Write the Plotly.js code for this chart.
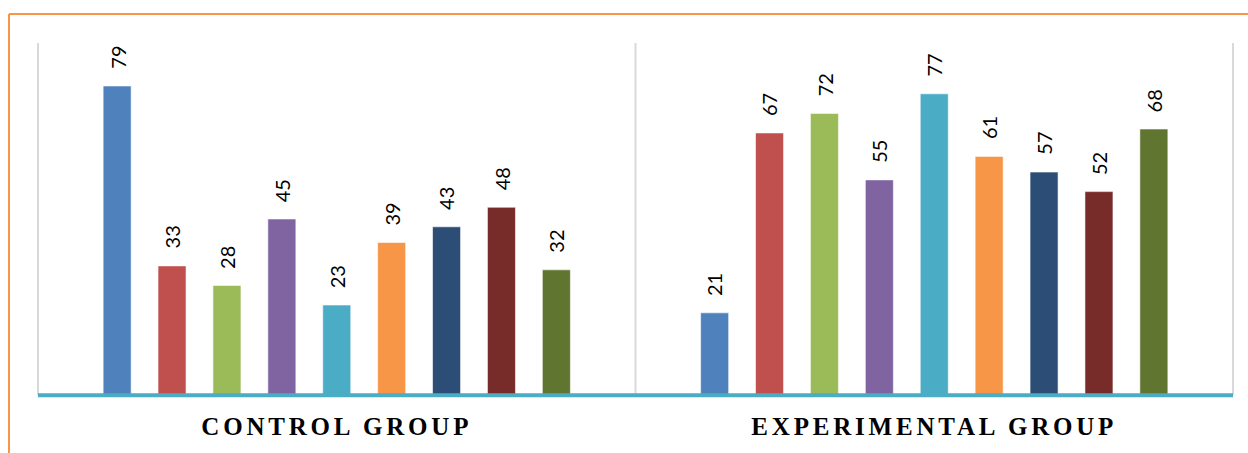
<!DOCTYPE html>
<html>
<head>
<meta charset="utf-8">
<script src="https://cdn.plot.ly/plotly-3.0.1.min.js"></script>
<style>
  html, body { margin: 0; padding: 0; background: #ffffff; }
  #chart { width: 1248px; height: 453px; }
</style>
</head>
<body>
<div id="chart"></div>
<script>
// ---- Data ----
const categories = ["CONTROL GROUP", "EXPERIMENTAL GROUP"];
const seriesNames = ["Item 1", "Item 2", "Item 3", "Item 4", "Item 5", "Item 6", "Item 7", "Item 8", "Item 9"];
const controlValues = [79, 33, 28, 45, 23, 39, 43, 48, 32];
const experimentalValues = [21, 67, 72, 55, 77, 61, 57, 52, 68];
const colors = ["#4F81BD", "#C0504D", "#9BBB59", "#8064A2", "#4BACC6", "#F79646", "#2C4D75", "#772C2A", "#5F7530"];

// ---- Layout parameters ----
const BARGAP = 0.173;
const BARGROUPGAP = 0.49;
const nSeries = seriesNames.length;

const traces = seriesNames.map((name, i) => ({
  type: "bar",
  name: name,
  x: categories,
  y: [controlValues[i], experimentalValues[i]],
  marker: { color: colors[i], line: { color: "rgba(255,255,255,0.55)", width: 1 } },
  hoverinfo: "y"
}));

const annotations = [];
seriesNames.forEach((name, i) => {
  const vals = [controlValues[i], experimentalValues[i]];
  vals.forEach((v, j) => {
    const slot = (1 - BARGAP) / nSeries;
    const xc = j - (1 - BARGAP) / 2 + (i + 0.5) * slot;
    annotations.push({
      x: xc, y: v, xref: "x", yref: "y",
      text: String(v), showarrow: false,
      textangle: -90, xanchor: "center", yanchor: "bottom",
      yshift: 15,
      font: { family: "Lato, Liberation Sans, Arial, sans-serif", size: 20, color: "#000000" }
    });
  });
});

const shapes = [
  // orange outer frame (top & left visible)
  { type: "line", xref: "paper", yref: "paper", x0: (9 - 38) / 1195, x1: 1.2, y0: (395 - 14) / 352, y1: (395 - 14) / 352,
    line: { color: "#F79646", width: 2 } },
  { type: "line", xref: "paper", yref: "paper", x0: (9 - 38) / 1195, x1: (9 - 38) / 1195, y0: (395 - 14) / 352, y1: -0.5,
    line: { color: "#F79646", width: 2 } },
  // vertical category separators
  { type: "line", xref: "paper", yref: "paper", x0: 0, x1: 0, y0: 0, y1: 1, line: { color: "#D9D9D9", width: 2 }, layer: "below" },
  { type: "line", xref: "paper", yref: "paper", x0: 0.5, x1: 0.5, y0: 0, y1: 1, line: { color: "#D9D9D9", width: 2 }, layer: "below" },
  { type: "line", xref: "paper", yref: "paper", x0: 1, x1: 1, y0: 0, y1: 1, line: { color: "#D9D9D9", width: 2 }, layer: "below" },
  // baseline
  { type: "line", xref: "paper", yref: "paper", x0: 0, x1: 1, y0: -0.001, y1: -0.001, line: { color: "#4BACC6", width: 4 }, layer: "above" }
];

const layout = {
  width: 1248, height: 453,
  margin: { l: 38, r: 15, t: 43, b: 58, pad: 0 },
  paper_bgcolor: "#ffffff", plot_bgcolor: "#ffffff",
  barmode: "group", bargap: BARGAP, bargroupgap: BARGROUPGAP,
  showlegend: false,
  xaxis: {
    type: "category", showgrid: false, zeroline: false, showline: false, ticks: "",
    ticklabelstandoff: 14,
    tickfont: { family: "Liberation Serif, Times New Roman, serif", size: 25, color: "#000000", weight: "bold" }
  },
  yaxis: { range: [0, 90], visible: false, showgrid: false, zeroline: false, fixedrange: true },
  annotations: annotations,
  shapes: shapes
};

Plotly.newPlot("chart", traces, layout, { displayModeBar: false, staticPlot: true }).then(() => {
  document.querySelectorAll(".xtick text").forEach(t => { t.style.letterSpacing = "3.8px"; });
});
</script>
</body>
</html>
